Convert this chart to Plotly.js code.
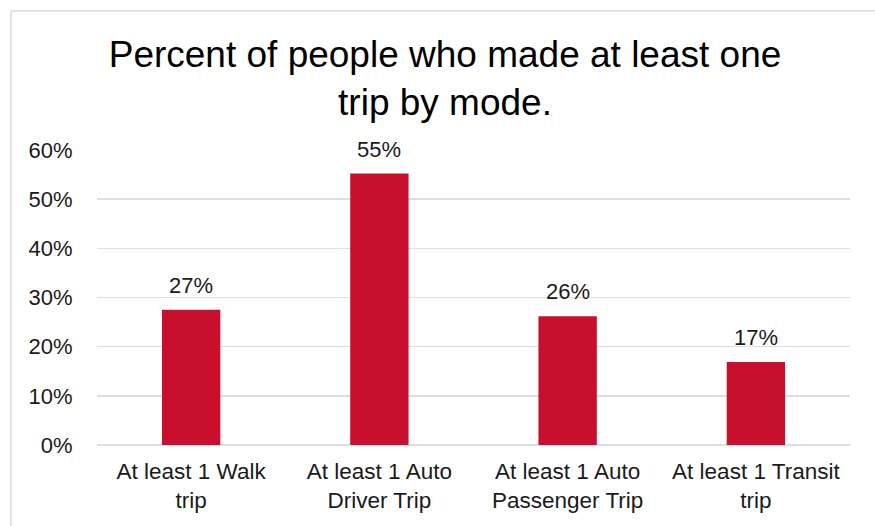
<!DOCTYPE html>
<html>
<head>
<meta charset="utf-8">
<script src="https://cdn.plot.ly/plotly-3.0.1.min.js"></script>
<style>
  html, body { margin: 0; padding: 0; background: #ffffff; }
  #wrap { position: relative; width: 875px; height: 526px; overflow: hidden; }
  #frame { position: absolute; left: 10px; top: 10px; width: 900px; height: 600px;
           border-left: 2px solid #e2e2e2; border-top: 2px solid #e2e2e2; pointer-events: none; }
  #chart { position: absolute; left: 0; top: 0; width: 875px; height: 526px; }
</style>
</head>
<body>
<div id="wrap">
  <div id="chart"></div>
  <div id="frame"></div>
</div>
<script>
const categories = [
  "At least 1 Walk<br>trip",
  "At least 1 Auto<br>Driver Trip",
  "At least 1 Auto<br>Passenger Trip",
  "At least 1 Transit<br>trip"
];
const values = [0.275, 0.552, 0.262, 0.169];
const valueLabels = ["27%", "55%", "26%", "17%"];
const tickValues = [0, 0.1, 0.2, 0.3, 0.4, 0.5, 0.6];
const tickLabels = ["0%", "10%", "20%", "30%", "40%", "50%", "60%"];

const FONT = "Liberation Sans, Arial, sans-serif";

const trace = {
  type: "bar",
  x: categories,
  y: values,
  marker: { color: "#C8102E" },
  hoverinfo: "skip"
};

const annotations = categories.map((c, i) => ({
  x: c, y: values[i], xref: "x", yref: "y",
  text: valueLabels[i], showarrow: false,
  yanchor: "bottom", yshift: 10,
  font: { family: FONT, size: 22, color: "#1a1a1a" }
}));

const layout = {
  width: 875, height: 526,
  margin: { l: 97, r: 25, t: 150, b: 81 },
  paper_bgcolor: "rgba(0,0,0,0)",
  plot_bgcolor: "rgba(0,0,0,0)",
  bargap: 0.69,
  showlegend: false,
  title: {
    text: "Percent of people who made at least one<br>trip by mode.",
    font: { family: FONT, size: 37, color: "#000000" },
    x: 0.5086, xref: "container", xanchor: "center",
    y: 0.873, yref: "container", yanchor: "top"
  },
  xaxis: {
    type: "category",
    showgrid: false, zeroline: false, showline: false,
    ticks: "outside", ticklen: 6, tickcolor: "rgba(0,0,0,0)",
    tickfont: { family: FONT, size: 22.5, color: "#1a1a1a" }
  },
  yaxis: {
    range: [0, 0.6],
    tickvals: tickValues, ticktext: tickLabels,
    showgrid: true, gridcolor: "#dedede", gridwidth: 1.5,
    zeroline: true, zerolinecolor: "#dedede", zerolinewidth: 1.5,
    showline: false,
    ticks: "outside", ticklen: 19, tickcolor: "rgba(0,0,0,0)",
    tickfont: { family: FONT, size: 22, color: "#1a1a1a" }
  },
  annotations: annotations
};

Plotly.newPlot("chart", [trace], layout, { staticPlot: true, displayModeBar: false });
</script>
</body>
</html>
